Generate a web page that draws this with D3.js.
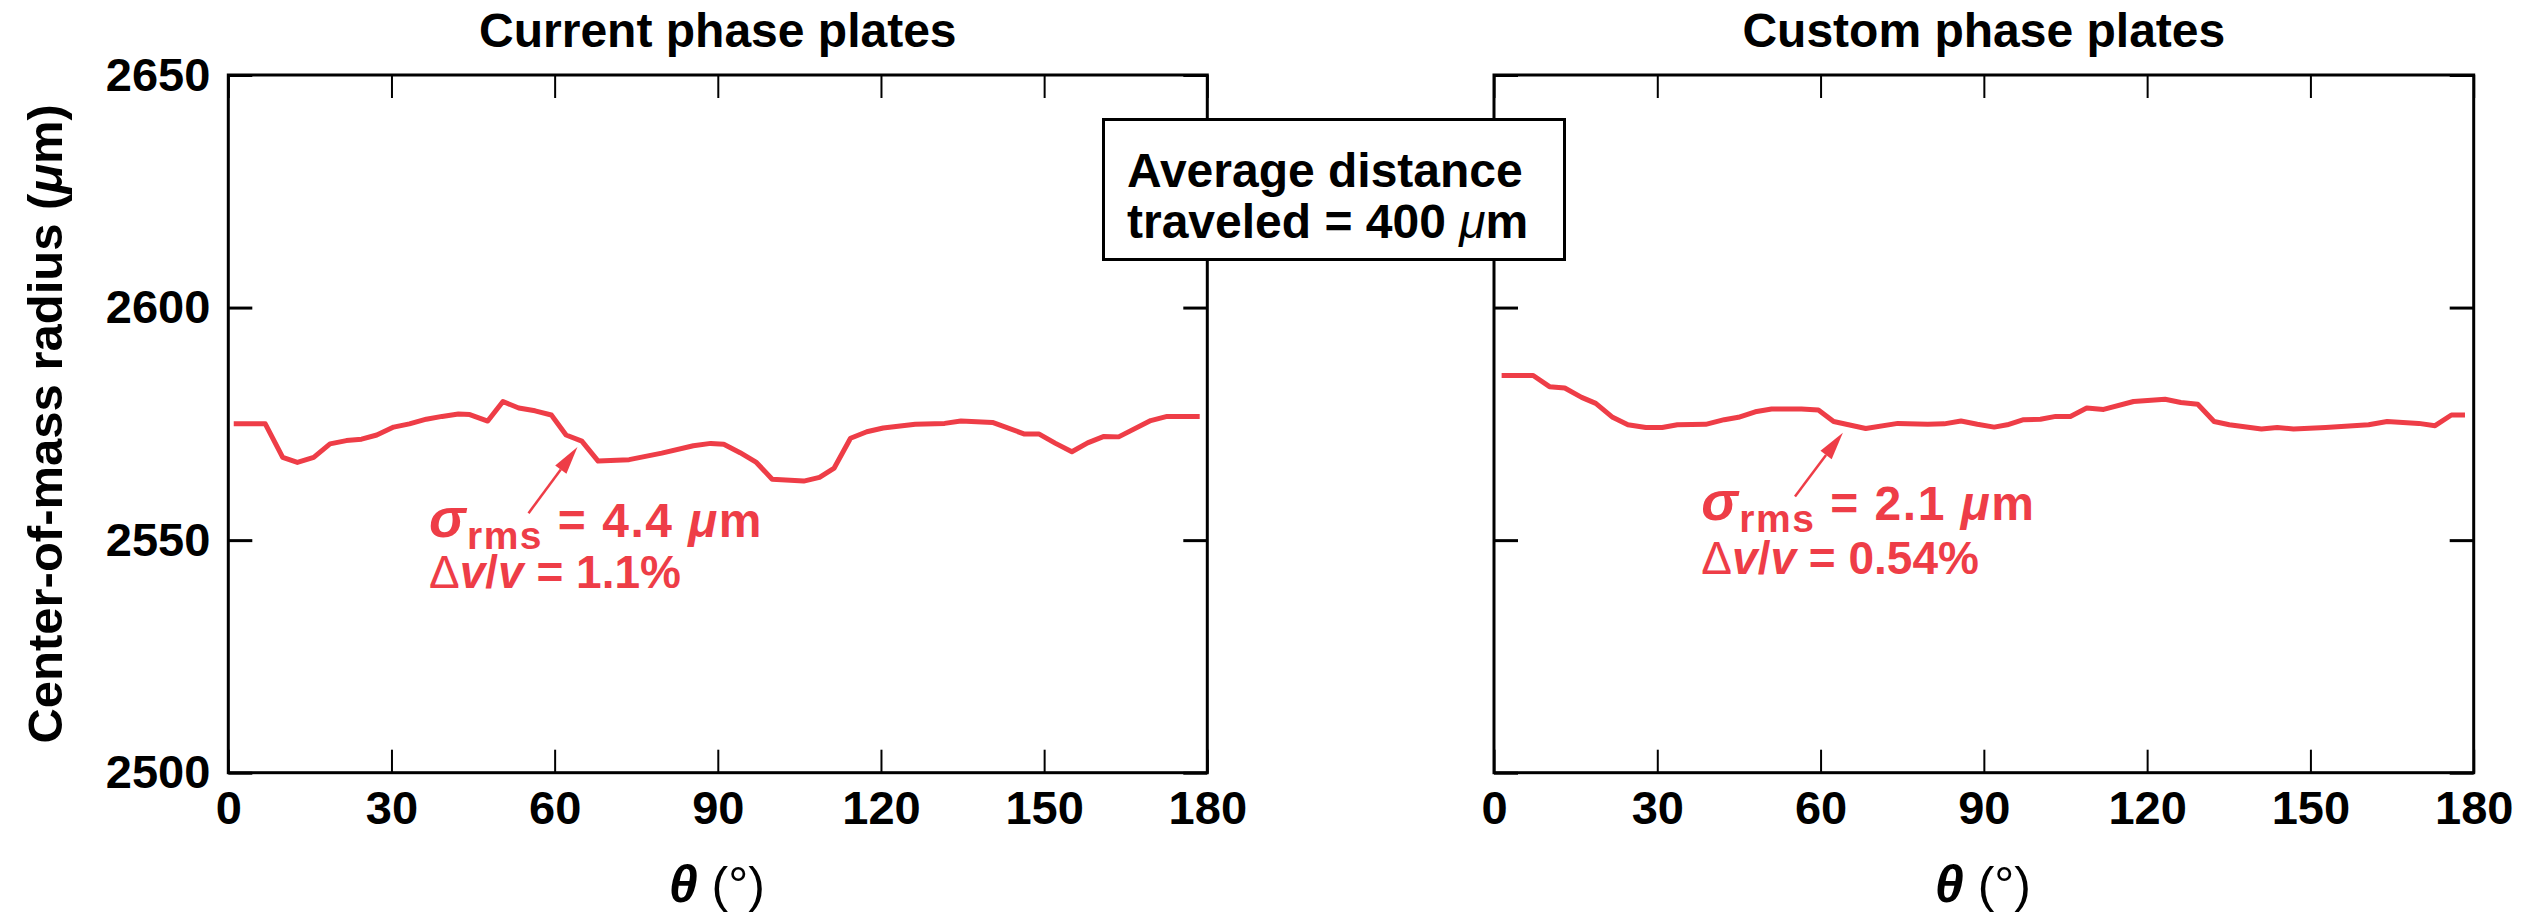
<!DOCTYPE html>
<html><head><meta charset="utf-8">
<script src="https://cdn.jsdelivr.net/npm/d3@7"></script>
<style>
html,body{margin:0;padding:0;background:#fff;}
text{font-family:"Liberation Sans",Arial,Helvetica,sans-serif;font-weight:bold;}
</style></head>
<body>
<svg id="chart" width="2535" height="917"></svg>
<script>
// ---- data ----
const thetaTicks = [0, 30, 60, 90, 120, 150, 180];
const radiusTicks = [2500, 2550, 2600, 2650];
const panelTitles = ["Current phase plates", "Custom phase plates"];

const currentTheta = [1.0, 6.8, 10.0, 12.7, 15.7, 18.7, 21.7, 24.5, 27.3, 30.4, 33.3, 36.4, 39.3, 42.3, 44.4, 47.7, 50.5, 53.4, 56.4, 59.4, 62.1, 65.0, 68.0, 73.7, 79.7, 85.5, 88.7, 91.1, 94.1, 97.1, 100.0, 105.8, 108.7, 111.4, 114.4, 117.4, 120.4, 126.3, 131.7, 134.7, 140.5, 146.4, 149.1, 152.1, 155.1, 158.0, 161.0, 163.7, 169.6, 172.6, 178.6];
const currentRadius = [2575.0, 2575.0, 2567.8, 2566.7, 2567.8, 2570.7, 2571.4, 2571.7, 2572.6, 2574.3, 2575.0, 2576.0, 2576.6, 2577.1, 2577.0, 2575.6, 2579.8, 2578.4, 2577.8, 2576.9, 2572.6, 2571.3, 2567.0, 2567.3, 2568.7, 2570.3, 2570.8, 2570.6, 2568.8, 2566.7, 2563.1, 2562.7, 2563.5, 2565.5, 2571.9, 2573.3, 2574.1, 2574.9, 2575.1, 2575.6, 2575.3, 2572.8, 2572.8, 2570.8, 2569.0, 2570.9, 2572.3, 2572.2, 2575.7, 2576.6, 2576.6];

const customTheta = [1.4, 7.2, 10.2, 13.0, 16.1, 18.7, 21.8, 24.6, 27.9, 30.9, 33.7, 38.9, 42.3, 44.9, 48.0, 51.0, 56.5, 59.6, 62.4, 68.3, 74.2, 79.7, 82.7, 85.8, 88.8, 91.9, 94.3, 97.3, 100.4, 103.2, 105.9, 108.9, 112.0, 117.5, 123.3, 126.2, 129.3, 132.3, 135.1, 141.0, 143.9, 146.9, 152.8, 160.7, 164.1, 169.9, 172.9, 175.9, 178.4];
const customRadius = [2585.4, 2585.4, 2583.0, 2582.7, 2580.7, 2579.4, 2576.4, 2574.8, 2574.2, 2574.2, 2574.8, 2574.9, 2575.9, 2576.4, 2577.6, 2578.2, 2578.2, 2578.0, 2575.5, 2574.0, 2575.1, 2574.9, 2575.0, 2575.6, 2574.9, 2574.3, 2574.8, 2575.9, 2576.0, 2576.6, 2576.6, 2578.4, 2578.1, 2579.8, 2580.3, 2579.6, 2579.2, 2575.5, 2574.8, 2573.9, 2574.2, 2573.9, 2574.2, 2574.8, 2575.5, 2575.1, 2574.6, 2576.9, 2576.9];

const sigmaValues = ["4.4", "2.1"];
const dvValues = ["1.1%", "0.54%"];
// annotation anchors in data units: [textTheta, line1Radius, line2Radius, arrowTailTheta, arrowTailRadius, arrowTipTheta, arrowTipRadius]
const annotAnchors = [
  [36.9, 2550.6, 2539.7, 55.2, 2555.8, 64.2, 2570.0],
  [38.1, 2554.4, 2542.8, 55.3, 2559.4, 64.1, 2573.1]
];

// ---- layout ----
const RED = "#ee3d47";
const plotTop = 75, plotBottom = 772.7;
const panelX = [[228.3, 1207.3], [1494, 2473.7]];
const svg = d3.select("#chart");

const y = d3.scaleLinear().domain([2500, 2650]).range([plotBottom, plotTop]);

const series = [
  currentTheta.map((t, i) => [t, currentRadius[i]]),
  customTheta.map((t, i) => [t, customRadius[i]])
];

panelX.forEach((px, p) => {
  const x = d3.scaleLinear().domain([0, 180]).range(px);
  const g = svg.append("g");

  // bottom axis
  const bx = g.append("g").attr("transform", `translate(0,${plotBottom})`)
    .call(d3.axisBottom(x).tickValues(thetaTicks).tickSize(-23).tickPadding(18).tickSizeOuter(0));
  bx.select(".domain").remove();
  bx.selectAll("line").attr("stroke", "#000").attr("stroke-width", 2);
  bx.selectAll("text").attr("font-size", 47).attr("fill", "#000")
    .attr("font-family", "Liberation Sans, Arial, sans-serif").attr("font-weight", "bold");

  // top axis
  const tx = g.append("g").attr("transform", `translate(0,${plotTop})`)
    .call(d3.axisTop(x).tickValues(thetaTicks).tickSize(-23).tickFormat("").tickSizeOuter(0));
  tx.select(".domain").remove();
  tx.selectAll("line").attr("stroke", "#000").attr("stroke-width", 2);

  // left axis
  const ly = g.append("g").attr("transform", `translate(${px[0]},0)`)
    .call(d3.axisLeft(y).tickValues(radiusTicks).tickSize(-24).tickPadding(18).tickSizeOuter(0)
      .tickFormat(p === 0 ? d3.format("d") : ""));
  ly.select(".domain").remove();
  ly.selectAll("line").attr("stroke", "#000").attr("stroke-width", 3);
  ly.selectAll("text").attr("font-size", 47).attr("fill", "#000")
    .attr("font-family", "Liberation Sans, Arial, sans-serif").attr("font-weight", "bold");

  // right axis
  const ry = g.append("g").attr("transform", `translate(${px[1]},0)`)
    .call(d3.axisRight(y).tickValues(radiusTicks).tickSize(-24).tickFormat("").tickSizeOuter(0));
  ry.select(".domain").remove();
  ry.selectAll("line").attr("stroke", "#000").attr("stroke-width", 3);

  // frame
  g.append("rect").attr("x", px[0]).attr("y", plotTop)
    .attr("width", px[1] - px[0]).attr("height", plotBottom - plotTop)
    .attr("fill", "none").attr("stroke", "#000").attr("stroke-width", 3);

  // title
  g.append("text").attr("x", (px[0] + px[1]) / 2).attr("y", 47)
    .attr("text-anchor", "middle").attr("font-size", 48).text(panelTitles[p]);

  // x-axis title
  const xt = g.append("text").attr("x", (px[0] + px[1]) / 2 - 1).attr("y", 902)
    .attr("text-anchor", "middle").attr("font-size", 50);
  xt.append("tspan").attr("font-style", "italic").attr("font-size", 52).text("\u03B8");
  xt.append("tspan").attr("font-weight", "normal").text(" (\u00B0)");

  // curve
  const line = d3.line().x(d => x(d[0])).y(d => y(d[1]));
  g.append("path").datum(series[p]).attr("d", line)
    .attr("fill", "none").attr("stroke", RED).attr("stroke-width", 5)
    .attr("stroke-linejoin", "round").attr("stroke-linecap", "butt");

  // annotation
  const a = annotAnchors[p];
  const t1 = g.append("text").attr("x", x(a[0])).attr("y", y(a[1]))
    .attr("font-size", 48).attr("fill", RED).attr("letter-spacing", 1.5);
  t1.append("tspan").attr("font-style", "italic").attr("font-size", 55).text("\u03C3");
  t1.append("tspan").attr("font-size", 39).attr("dy", 12).text("rms");
  t1.append("tspan").attr("dy", -12).text(" = " + sigmaValues[p] + " ");
  t1.append("tspan").attr("font-style", "italic").text("\u03BC");
  t1.append("tspan").text("m");

  const t2 = g.append("text").attr("x", x(a[0])).attr("y", y(a[2]))
    .attr("font-size", 46).attr("fill", RED);
  t2.append("tspan").attr("font-weight", "normal").text("\u0394");
  t2.append("tspan").attr("font-style", "italic").text("v");
  t2.append("tspan").text("/");
  t2.append("tspan").attr("font-style", "italic").text("v");
  t2.append("tspan").text(" = " + dvValues[p]);

  // arrow
  const x0 = x(a[3]), y0 = y(a[4]), x1 = x(a[5]), y1 = y(a[6]);
  const ang = Math.atan2(y1 - y0, x1 - x0);
  const hl = 28, hw = 7;
  const bxp = x1 - hl * Math.cos(ang), byp = y1 - hl * Math.sin(ang);
  g.append("line").attr("x1", x0).attr("y1", y0).attr("x2", bxp).attr("y2", byp)
    .attr("stroke", RED).attr("stroke-width", 2.5);
  g.append("path").attr("d", `M${x1},${y1}L${bxp - hw * Math.sin(ang)},${byp + hw * Math.cos(ang)}L${bxp + hw * Math.sin(ang)},${byp - hw * Math.cos(ang)}Z`)
    .attr("fill", RED);
});

// y-axis title
svg.append("text").attr("transform", `translate(62,${(plotTop + plotBottom) / 2}) rotate(-90)`)
  .attr("text-anchor", "middle").attr("font-size", 49)
  .call(t => {
    t.append("tspan").text("Center-of-mass radius (");
    t.append("tspan").attr("font-style", "italic").text("\u03BC");
    t.append("tspan").text("m)");
  });

// info box
const box = svg.append("g");
box.append("rect").attr("x", 1103.5).attr("y", 119.5).attr("width", 461).attr("height", 140)
  .attr("fill", "#fff").attr("stroke", "#000").attr("stroke-width", 3);
box.append("text").attr("x", 1127).attr("y", 187).attr("font-size", 48).text("Average distance");
const bt = box.append("text").attr("x", 1127).attr("y", 238).attr("font-size", 48);
bt.append("tspan").text("traveled = 400 ");
bt.append("tspan").attr("font-style", "italic").attr("font-weight", "normal").text("\u03BC");
bt.append("tspan").text("m");
</script>
</body></html>
